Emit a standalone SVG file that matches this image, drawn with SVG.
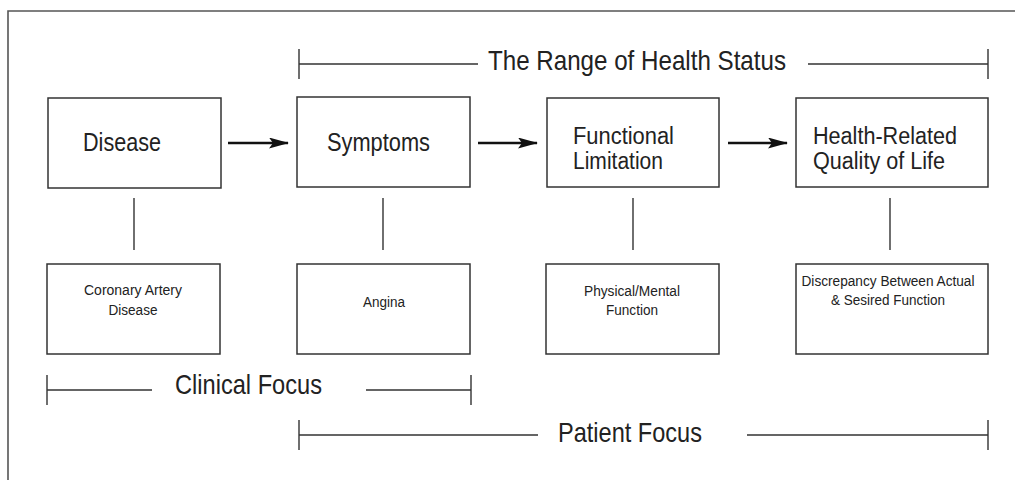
<svg xmlns="http://www.w3.org/2000/svg" width="1015" height="480" viewBox="0 0 1015 480">
<defs>
<style>
.box{fill:#fff;stroke:#333;stroke-width:1.5}
.ln{stroke:#333;stroke-width:1.4;fill:none}
.arr{stroke:#111;stroke-width:2.6;fill:none}
.big{font-family:"Liberation Sans",Arial,sans-serif;font-size:25px;fill:#222}
.two{font-family:"Liberation Sans",Arial,sans-serif;font-size:23.5px;fill:#222}
.hdr{font-family:"Liberation Sans",Arial,sans-serif;font-size:28px;fill:#222}
.sm{font-family:"Liberation Sans",Arial,sans-serif;font-size:14px;fill:#222;text-anchor:middle}
</style>
<marker id="ah" viewBox="0 0 20 11" refX="19" refY="5.5" markerWidth="20" markerHeight="11" markerUnits="userSpaceOnUse" orient="auto">
<path d="M0,0 L20,5.5 L0,11 L4,5.5 Z" fill="#111"/>
</marker>
</defs>
<rect width="1015" height="480" fill="#fff"/>
<path d="M8,480 V11 H1015" fill="none" stroke="#555" stroke-width="1.6"/>

<g id="range-bracket">
<path class="ln" d="M299,49 V79 M299,64 H478 M808,64 H988 M988,49 V79"/>
<text class="hdr" x="488" y="70" textLength="298" lengthAdjust="spacingAndGlyphs">The Range of Health Status</text>
</g>

<g id="disease">
<rect class="box" x="48" y="98" width="173" height="90"/>
<text class="big" x="83" y="151" textLength="78" lengthAdjust="spacingAndGlyphs">Disease</text>
</g>
<g id="symptoms">
<rect class="box" x="297" y="97" width="173" height="90"/>
<text class="big" x="327" y="151" textLength="103" lengthAdjust="spacingAndGlyphs">Symptoms</text>
</g>
<g id="functional-limitation">
<rect class="box" x="547" y="98" width="172" height="89"/>
<text class="two" x="573" y="143.5" textLength="101" lengthAdjust="spacingAndGlyphs">Functional</text>
<text class="two" x="573" y="169" textLength="90" lengthAdjust="spacingAndGlyphs">Limitation</text>
</g>
<g id="hrqol">
<rect class="box" x="796" y="98" width="192" height="89"/>
<text class="two" x="813" y="143.5" textLength="144" lengthAdjust="spacingAndGlyphs">Health-Related</text>
<text class="two" x="813" y="169" textLength="132" lengthAdjust="spacingAndGlyphs">Quality of Life</text>
</g>

<g id="coronary">
<rect class="box" x="47" y="264" width="173" height="90"/>
<text class="sm" x="133" y="295" textLength="98" lengthAdjust="spacingAndGlyphs">Coronary Artery</text>
<text class="sm" x="133" y="315" textLength="49" lengthAdjust="spacingAndGlyphs">Disease</text>
</g>
<g id="angina">
<rect class="box" x="297" y="264" width="173" height="90"/>
<text class="sm" x="384" y="306.5" textLength="42" lengthAdjust="spacingAndGlyphs">Angina</text>
</g>
<g id="physical-mental">
<rect class="box" x="546" y="264" width="173" height="90"/>
<text class="sm" x="632" y="295.5" textLength="96" lengthAdjust="spacingAndGlyphs">Physical/Mental</text>
<text class="sm" x="632" y="315" textLength="52" lengthAdjust="spacingAndGlyphs">Function</text>
</g>
<g id="discrepancy">
<rect class="box" x="796" y="264" width="192" height="90"/>
<text class="sm" x="888" y="286" textLength="173" lengthAdjust="spacingAndGlyphs">Discrepancy Between Actual</text>
<text class="sm" x="888" y="305" textLength="114" lengthAdjust="spacingAndGlyphs">&amp; Sesired Function</text>
</g>

<g id="connectors">
<line class="arr" x1="228" y1="143" x2="288" y2="143" marker-end="url(#ah)"/>
<line class="arr" x1="478" y1="143" x2="537" y2="143" marker-end="url(#ah)"/>
<line class="arr" x1="728" y1="143" x2="787" y2="143" marker-end="url(#ah)"/>
<line class="ln" x1="134" y1="198" x2="134" y2="250"/>
<line class="ln" x1="383" y1="198" x2="383" y2="250"/>
<line class="ln" x1="633" y1="198" x2="633" y2="250"/>
<line class="ln" x1="890" y1="198" x2="890" y2="250"/>
</g>

<g id="clinical-bracket">
<path class="ln" d="M47,375 V405 M47,390 H152 M366,390 H471 M471,375 V405"/>
<text class="hdr" x="175" y="394" textLength="147" lengthAdjust="spacingAndGlyphs">Clinical Focus</text>
</g>
<g id="patient-bracket">
<path class="ln" d="M299,420 V450 M299,435 H538 M747,435 H988 M988,420 V450"/>
<text class="hdr" x="558" y="441.5" textLength="144" lengthAdjust="spacingAndGlyphs">Patient Focus</text>
</g>
</svg>
